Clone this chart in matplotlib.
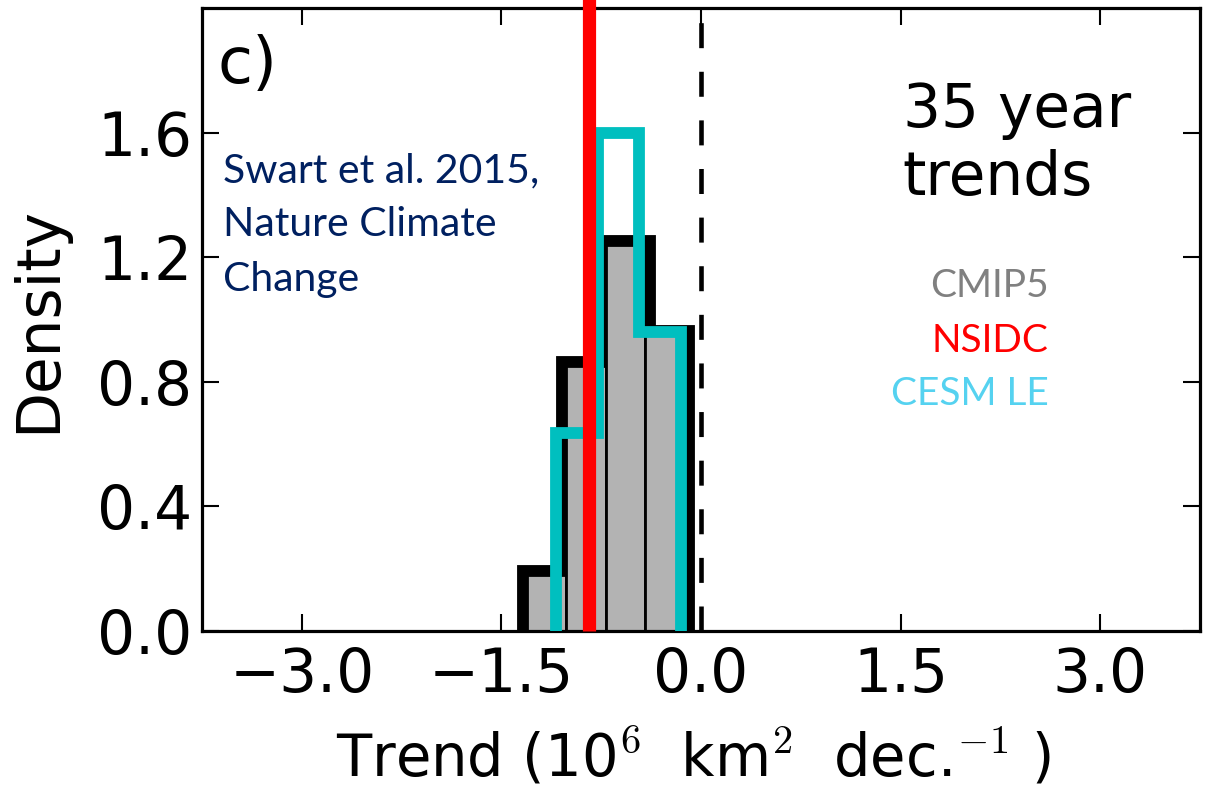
import numpy as np
import matplotlib
matplotlib.use('Agg')
import matplotlib.pyplot as plt

plt.rcParams['mathtext.fontset'] = 'cm'
plt.rcParams['lines.scale_dashes'] = False

# 35-year sea ice extent trends (10^6 km^2 per decade)
cmip5_edges = [-1.31, -1.013, -0.716, -0.42, -0.124]
cmip5_density = [0.18, 0.85, 1.24, 0.95]
cesm_edges = [-1.09, -0.777, -0.465, -0.153]
cesm_density = [0.636, 1.60, 0.96]
nsidc_trend = -0.844

xticks = [-3.0, -1.5, 0.0, 1.5, 3.0]
yticks = [0.0, 0.4, 0.8, 1.2, 1.6]

fig = plt.figure(figsize=(12.05, 7.88), dpi=100)
ax = fig.add_axes([202 / 1205, 1 - 631 / 788, 998 / 1205, 623 / 788])

# CMIP5: thick black outline behind grey bars
ax.stairs(cmip5_density, cmip5_edges, color='k', lw=15, zorder=1)
lefts = np.array(cmip5_edges[:-1])
widths = np.diff(cmip5_edges)
ax.bar(lefts, cmip5_density, widths, align='edge', color='0.7',
       edgecolor='k', lw=2, zorder=2)

# CESM large ensemble
ax.stairs(cesm_density, cesm_edges, color=(0, 0.75, 0.75), lw=8.5, zorder=3)

# observed trend and zero line
ax.axvline(nsidc_trend, ymin=0, ymax=1.015, color='r', lw=9.5,
           solid_capstyle='butt', clip_on=False, zorder=4)
ax.axvline(0.0, color='k', lw=3.3, dashes=(18, 17), zorder=3)

ax.set_xlim(-3.75, 3.75)
ax.set_ylim(0, 2.0)
ax.set_xticks(xticks)
ax.set_yticks(yticks)
ax.set_xticklabels(['%.1f' % t if t >= 0 else '\u2212%.1f' % -t for t in xticks])
ax.set_yticklabels(['%.1f' % t for t in yticks])
ax.tick_params(direction='in', length=12, width=1.5, labelsize=43,
               top=True, right=True)
ax.tick_params(axis='x', pad=11)
ax.tick_params(axis='y', pad=7)
for s in ax.spines.values():
    s.set_linewidth(2.3)

ax.set_xlabel(r'Trend (10$^6$  km$^2$  dec.$^{-1}$ )', fontsize=41.5)
ax.set_ylabel('Density', fontsize=43)
ax.xaxis.set_label_coords(0.492, -0.152)
ax.yaxis.set_label_coords(-0.134, 0.5)

ax.text(0.016, 0.88, 'c)', transform=ax.transAxes, fontsize=46,
        va='baseline', ha='left')
# multi-line texts: baseline alignment refers to the last line
ax.text(0.702, 0.70, '35 year\ntrends', transform=ax.transAxes,
        fontsize=43, va='baseline', ha='left')

ax.text(0.021, 0.546, 'Swart et al. 2015,\nNature Climate\nChange',
        transform=ax.transAxes, fontsize=29.5, family='Lato',
        color='#002060', va='baseline', ha='left', linespacing=1.58)

ax.text(0.848, 0.536, 'CMIP5', transform=ax.transAxes, fontsize=28,
        family='Lato', color='#808080', ha='right', va='baseline')
ax.text(0.848, 0.448, 'NSIDC', transform=ax.transAxes, fontsize=28,
        family='Lato', color='#ff0000', ha='right', va='baseline')
ax.text(0.848, 0.363, 'CESM LE', transform=ax.transAxes, fontsize=28,
        family='Lato', color='#55d2f0', ha='right', va='baseline')

fig.savefig('out.png', dpi=100)
